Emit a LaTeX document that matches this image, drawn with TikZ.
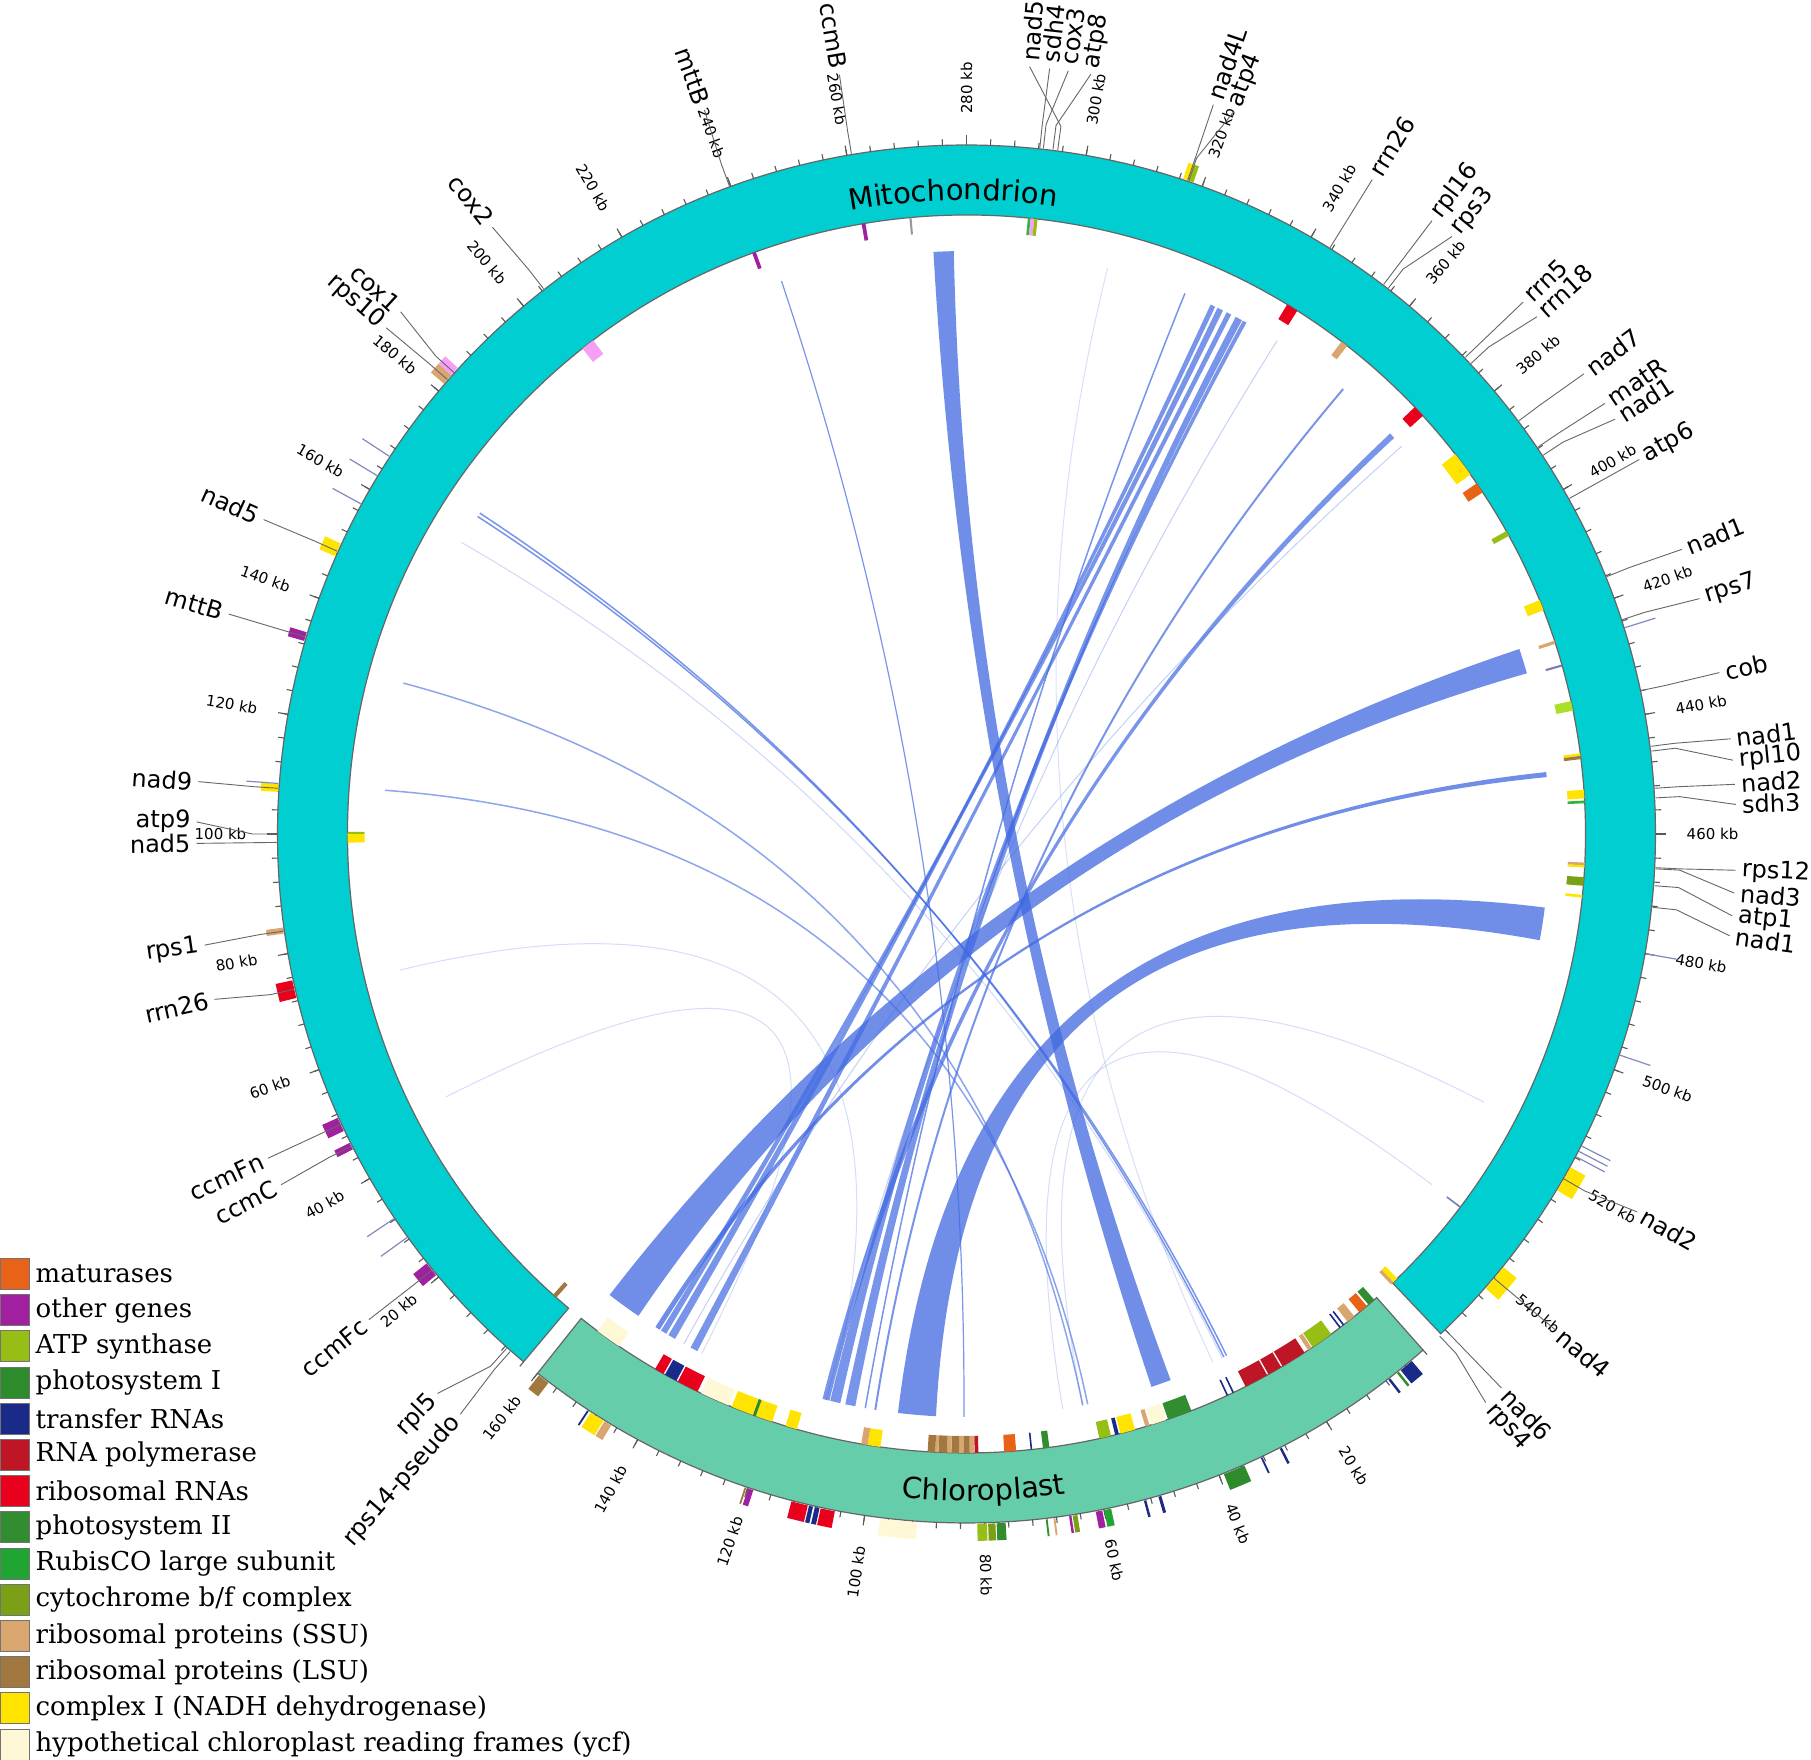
\documentclass[tikz,border=0pt]{standalone}
\usepackage{fontspec}
\setmainfont{DejaVu Serif}
\newfontfamily\sansf{DejaVu Sans}
\usetikzlibrary{decorations.text}
\definecolor{mitoC}{RGB}{0,206,209}
\definecolor{chlC}{RGB}{102,205,170}
\definecolor{cMat}{RGB}{232,98,24}
\definecolor{cOth}{RGB}{160,32,160}
\definecolor{cATP}{RGB}{150,190,20}
\definecolor{cPSI}{RGB}{46,139,44}
\definecolor{cTRNA}{RGB}{26,42,136}
\definecolor{cRNAP}{RGB}{190,22,36}
\definecolor{cRRNA}{RGB}{232,0,28}
\definecolor{cPSII}{RGB}{50,140,48}
\definecolor{cRub}{RGB}{32,165,50}
\definecolor{cCyt}{RGB}{122,160,24}
\definecolor{cSSU}{RGB}{218,166,112}
\definecolor{cLSU}{RGB}{160,120,64}
\definecolor{cNADH}{RGB}{255,228,0}
\definecolor{cYcf}{RGB}{255,248,214}
\definecolor{cCox}{RGB}{245,160,245}
\definecolor{cLink}{RGB}{65,105,225}
\definecolor{cCob}{RGB}{170,225,40}
\definecolor{cSdh}{RGB}{50,180,60}
\newcommand\ringf{\sansf\fontsize{29}{31}\selectfont}
\newcommand\band[5]{\fill[#5] (#1:#3) arc[start angle=#1,end angle=#2,radius=#3] -- (#2:#4) arc[start angle=#2,end angle=#1,radius=#4] -- cycle;}
\newcommand\gmo[3]{\pgfmathsetmacro\tA{230-(#1)/2}\pgfmathsetmacro\tB{230-(#2)/2}\band{\tA}{\tB}{690}{707}{#3}}
\newcommand\gmi[3]{\pgfmathsetmacro\tA{230-(#1)/2}\pgfmathsetmacro\tB{230-(#2)/2}\band{\tA}{\tB}{602}{619}{#3}}
\newcommand\gco[3]{\pgfmathsetmacro\tA{-48.5-(#1)/2}\pgfmathsetmacro\tB{-48.5-(#2)/2}\band{\tA}{\tB}{690}{707}{#3}}
\newcommand\gci[3]{\pgfmathsetmacro\tA{-48.5-(#1)/2}\pgfmathsetmacro\tB{-48.5-(#2)/2}\band{\tA}{\tB}{602}{619}{#3}}
\newcommand\trl[1]{\pgfmathsetmacro\tA{230-(#1)/2}\draw[cTRNA!55,line width=1.2pt] (\tA:690) -- (\tA:722);}
\newcommand\lnk[5]{%
  \pgfmathsetmacro\pa{230-(#1)/2}\pgfmathsetmacro\pb{230-(#2)/2}%
  \pgfmathsetmacro\qa{-48.5-(#3)/2}\pgfmathsetmacro\qb{-48.5-(#4)/2}%
  \fill[cLink,fill opacity=#5] (\pa:583) arc[start angle=\pa,end angle=\pb,radius=583] .. controls (\pb:194) and (\qa:194) .. (\qa:583) arc[start angle=\qa,end angle=\qb,radius=583] .. controls (\qb:194) and (\pa:194) .. (\pa:583) -- cycle;}
\newcommand\lln[4]{%
  \pgfmathsetmacro\pa{230-(#1)/2}\pgfmathsetmacro\qa{-48.5-(#2)/2}%
  \draw[cLink,draw opacity=#3,line width=#4] (\pa:583) .. controls (\pa:194) and (\qa:194) .. (\qa:583);}
\newcommand\glab[3]{%
  \draw[lead] (#1:690) -- (#1:714) -- (#2:770);
  \pgfmathtruncatemacro\flip{((#2)>90.01 || (#2)<(-90)) ? 1 : 0}%
  \ifnum\flip=1 \node[glbl,rotate=#2+180,anchor=east] at (#2:776) {#3};%
  \else \node[glbl,rotate=#2,anchor=west] at (#2:776) {#3};\fi}
\begin{document}
\begin{tikzpicture}[x=1pt,y=1pt,
  tk/.style={draw=black!65,line width=1.1pt},
  lead/.style={draw=black!60,line width=0.9pt},
  glbl/.style={font=\sansf\fontsize{24}{26}\selectfont,inner sep=0pt},
  tl/.style={font=\sansf\fontsize{15}{17}\selectfont,inner sep=0pt},
  legt/.style={font=\fontsize{26}{28}\selectfont,inner sep=0pt},
  legbox/.style={draw=black!55,line width=1pt},
  ringo/.style={draw=black!60,line width=1.2pt}]
\fill[white] (-966.5,-926) rectangle (844.5,834);
\useasboundingbox (-966.5,-926) rectangle (844.5,834);

% ---------------- links ----------------
\lln{160}{31}{.25}{1pt}
\lln{73}{110}{.22}{1pt}
\lln{46.4}{137}{.22}{1pt}
\lln{308}{33}{.2}{1pt}
\lln{344.4}{110.8}{.3}{1pt}
\lln{376.6}{141}{.3}{1pt}
\lln{514.8}{60}{.22}{1pt}
\lln{534}{64}{.22}{1pt}
\lln{324}{103}{.7}{1.5pt}
\lln{360.5}{101}{.7}{2pt}
\lln{243}{83.5}{.7}{1.2pt}
\lln{166}{30}{.7}{1.5pt}
\lln{166.8}{30.6}{.7}{1.5pt}
\lln{130}{60}{.6}{1.5pt}
\lln{108.6}{59}{.6}{1.5pt}
\lnk{273.5}{277.5}{42}{46}{.75}
\lnk{423}{428}{151.5}{158.5}{.75}
\lnk{474.5}{481}{89}{96.5}{.75}
\lnk{447.8}{448.8}{146.5}{147.5}{.75}
\lnk{329.5}{330.5}{143}{144.5}{.7}
\lnk{331}{332.2}{145}{146.2}{.7}
\lnk{333}{334}{138}{139.5}{.7}
\lnk{335}{336.4}{105}{107}{.7}
\lnk{336.6}{337.4}{108}{110}{.7}
\lnk{373.2}{374.4}{110.2}{111.6}{.7}

% ---------------- rings ----------------
\filldraw[ringo,fill=mitoC] (230:619) arc[start angle=230,end angle=-46.5,radius=619] -- (-46.5:689) arc[start angle=-46.5,end angle=230,radius=689] -- cycle;
\filldraw[ringo,fill=chlC] (-48.5:619) arc[start angle=-48.5,end angle=-128.5,radius=619] -- (-128.5:689) arc[start angle=-128.5,end angle=-48.5,radius=689] -- cycle;
\path[decorate,decoration={text along path,text align=center,text={|\ringf|Mitochondrion}}] (111.2:634) arc[start angle=111.2,end angle=71.2,radius=634];
\path[decorate,decoration={text along path,text align=center,text={|\ringf|Chloroplast}}] (-108.5:667) arc[start angle=-108.5,end angle=-68.5,radius=667];

% ---------------- ticks ----------------
\foreach \k in {0,4,...,552}{\draw[tk] ({230-\k/2}:689) -- ({230-\k/2}:695);}
\foreach \k in {20,40,...,540}{\draw[tk] ({230-\k/2}:689) -- ({230-\k/2}:699);}
\foreach \k in {0,4,...,160}{\draw[tk] ({-48.5-\k/2}:689) -- ({-48.5-\k/2}:695);}
\foreach \k in {20,40,...,160}{\draw[tk] ({-48.5-\k/2}:689) -- ({-48.5-\k/2}:699);}
\foreach \k in {20,40,...,540}{
  \pgfmathsetmacro\a{230-\k/2}
  \pgfmathtruncatemacro\flip{\a>90.01 ? 1 : 0}
  \ifnum\flip=1 \node[tl,rotate=\a+180,anchor=east] (tm\k) at (\a:720) {\k{} kb};
  \else \node[tl,rotate=\a,anchor=west] (tm\k) at (\a:720) {\k{} kb};\fi}
\foreach \k in {20,40,...,160}{
  \pgfmathsetmacro\a{-48.5-\k/2}
  \pgfmathtruncatemacro\flip{\a<(-90) ? 1 : 0}
  \ifnum\flip=1 \node[tl,rotate=\a+180,anchor=east] (tc\k) at (\a:720) {\k{} kb};
  \else \node[tl,rotate=\a,anchor=west] (tc\k) at (\a:720) {\k{} kb};\fi}

% ---------------- mito genes ----------------
\gmo{20.5}{23}{cOth}
\gmo{45.6}{46.8}{cOth}
\gmo{49}{51.4}{cOth}
\gmo{72.5}{75.5}{cRRNA}
\gmo{83.4}{84.4}{cSSU}
\gmo{107}{108.3}{cNADH}
\gmo{132.5}{134}{cOth}
\gmo{147.5}{149.8}{cNADH}
\gmo{181.5}{183.4}{cSSU}
\gmo{183.4}{185}{cCox}
\gmo{316.6}{317.6}{cNADH}
\gmo{317.6}{318.4}{cATP}
\gmo{517.8}{522.2}{cNADH}
\gmo{537.8}{542.4}{cNADH}
\trl{28.4}\trl{32.2}\trl{108.4}\trl{157.2}\trl{162.6}\trl{166.4}\trl{425.2}\trl{480}\trl{497.4}\trl{513.8}\trl{514.8}\trl{515.8}
\gmi{3}{3.8}{cLSU}
\gmi{98.4}{100}{cNADH}
\gmi{100}{100.4}{cATP}
\gmi{203.3}{205.8}{cCox}
\gmi{239.5}{240.2}{cOth}
\gmi{269.4}{269.8}{black!40}
\gmi{260.5}{261.2}{cOth}
\gmi{291.4}{291.9}{cSdh}
\gmi{291.9}{292.6}{cCox}
\gmi{292.6}{293.2}{cATP}
\gmi{342.4}{344.6}{cRRNA}
\gmi{354.6}{355.9}{cSSU}
\gmi{372.8}{375}{cRRNA}
\gmi{384.3}{389}{cNADH}
\gmi{391}{393}{cMat}
\gmi{401.4}{402.4}{cATP}
\gmi{415.6}{417.6}{cNADH}
\gmi{423.6}{424.2}{cSSU}
\gmi{428.2}{428.6}{cTRNA!60}
\gmi{435.2}{437}{cCob}
\gmi{445}{445.5}{cNADH}
\gmi{445.5}{446.1}{cLSU}
\gmi{451.8}{453.4}{cNADH}
\gmi{453.8}{454.3}{cSdh}
\gmi{465.3}{465.8}{cSSU}
\gmi{465.8}{466.2}{cNADH}
\gmi{468}{469.6}{cCyt}
\gmi{471.3}{471.8}{cNADH}
\gmi{534}{534.3}{cTRNA!60}
\gmi{551.8}{552.8}{cNADH}
\gmi{552.8}{553.4}{cSSU}

% ---------------- chloroplast genes ----------------
\gco{2.6}{5}{cTRNA}
\gco{5.4}{5.8}{cPSII}
\gco{7.2}{7.6}{cTRNA}
\gco{28.6}{29}{cTRNA}
\gco{32.2}{32.5}{cTRNA}
\gco{35.5}{39.2}{cPSI}
\gco{50.2}{50.7}{cTRNA}
\gco{52.8}{53.2}{cTRNA}
\gco{58.8}{60}{cRub}
\gco{60.3}{61.4}{cOth}
\gco{64.5}{65.3}{cCyt}
\gco{65.5}{65.9}{cOth}
\gco{68.2}{68.5}{cSSU}
\gco{69.5}{69.8}{cPSII}
\gco{76.5}{78}{cPSII}
\gco{78.2}{79.4}{cCyt}
\gco{79.6}{81.2}{cATP}
\gco{91.2}{97.4}{cYcf}
\gco{105}{107.4}{cRRNA}
\gco{107.6}{108.4}{cTRNA}
\gco{108.7}{109.4}{cTRNA}
\gco{109.6}{112.4}{cRRNA}
\gco{119}{119.9}{cOth}
\gco{120.2}{120.5}{cLSU}
\gco{145}{146.3}{cSSU}
\gco{146.5}{149}{cNADH}
\gco{149.4}{149.7}{cTRNA}
\gco{157.6}{159.6}{cLSU}
\gci{0.6}{2}{cPSII}
\gci{2.4}{4.2}{cMat}
\gci{5.4}{7}{cSSU}
\gci{7.8}{8.1}{cTRNA}
\gci{8.6}{8.9}{cTRNA}
\gci{10.8}{15}{cATP}
\gci{15.2}{16}{cSSU}
\gci{16.8}{21.6}{cRNAP}
\gci{21.9}{24.6}{cRNAP}
\gci{24.9}{29.4}{cRNAP}
\gci{31.8}{32.1}{cTRNA}
\gci{33}{33.3}{cTRNA}
\gci{40.4}{45}{cPSII}
\gci{45.4}{48.2}{cYcf}
\gci{48.6}{49.4}{cSSU}
\gci{51.4}{54.2}{cNADH}
\gci{54.5}{55.2}{cTRNA}
\gci{56}{58.2}{cATP}
\gci{67.6}{68.8}{cPSII}
\gci{70.8}{71.1}{cTRNA}
\gci{73.8}{76}{cMat}
\gci{80.8}{81.5}{cRNAP}
\gci{81.6}{82.4}{cSSU}
\gci{82.4}{83.6}{cLSU}
\gci{83.6}{84.4}{cSSU}
\gci{84.4}{85.8}{cLSU}
\gci{85.8}{86.6}{cSSU}
\gci{86.6}{88.2}{cLSU}
\gci{88.2}{88.8}{cSSU}
\gci{88.8}{90.2}{cLSU}
\gci{99}{101.4}{cNADH}
\gci{101.4}{102.6}{cSSU}
\gci{114.8}{117}{cNADH}
\gci{119.6}{122.8}{cNADH}
\gci{122.8}{123.4}{cPSI}
\gci{123.4}{127.6}{cNADH}
\gci{128.2}{133.8}{cYcf}
\gci{134.5}{138.6}{cRRNA}
\gci{138.9}{141.3}{cTRNA}
\gci{141.6}{143.4}{cRRNA}
\gci{151.3}{156.2}{cYcf}

% ---------------- gene labels ----------------
\glab{228.2}{226.6}{rpl5}
\glab{228.6}{228.9}{rps14-pseudo}
\glab{219.2}{219.1}{ccmFc}
\glab{206.9}{207.1}{ccmC}
\glab{204.9}{204.9}{ccmFn}
\glab{193.0}{192.4}{rrn26}
\glab{188.1}{188.3}{rps1}
\glab{180.7}{180.7}{nad5}
\glab{180.0}{179.1}{atp9}
\glab{176.2}{176.1}{nad9}
\glab{163.4}{163.4}{mttB}
\glab{155.8}{155.9}{nad5}
\glab{138.8}{138.9}{rps10}
\glab{138.0}{137.3}{cox1}
\glab{127.8}{128.0}{cox2}
\glab{110.1}{109.9}{mttB}
\glab{99.6}{99.5}{ccmB}
\glab{82.4}{85.3}{nad5}
\glab{83.9}{83.8}{sdh4}
\glab{83.6}{82.4}{cox3}
\glab{82.8}{80.7}{atp8}
\glab{71.3}{71.3}{nad4L}
\glab{71.2}{69.7}{atp4}
\glab{58.2}{58.2}{rrn26}
\glab{52.8}{52.8}{rpl16}
\glab{52.3}{50.9}{rps3}
\glab{43.7}{43.7}{rrn5}
\glab{43.0}{42.2}{rrn18}
\glab{36.8}{36.7}{nad7}
\glab{34.1}{34.0}{matR}
\glab{33.3}{32.6}{nad1}
\glab{29.1}{29.1}{atp6}
\glab{21.9}{21.7}{nad1}
\glab{18.1}{17.8}{rps7}
\glab{12.0}{12.1}{cob}
\glab{7.3}{7.1}{nad1}
\glab{6.9}{5.5}{rpl10}
\glab{3.8}{3.7}{nad2}
\glab{3.0}{2.2}{sdh3}
\glab{-2.8}{-2.7}{rps12}
\glab{-2.9}{-4.4}{nad3}
\glab{-4.3}{-6.1}{atp1}
\glab{-6.1}{-7.6}{nad1}
\glab{-30.0}{-29.4}{nad2}
\glab{-40.1}{-40.1}{nad4}
\glab{-46.0}{-46.0}{nad6}
\glab{-46.7}{-47.6}{rps4}

% ---------------- legend ----------------
\foreach \c/\t [count=\i from 0] in {cMat/{maturases},cOth/{other genes},cATP/{ATP synthase},cPSI/{photosystem I},cTRNA/{transfer RNAs},cRNAP/{RNA polymerase},cRRNA/{ribosomal RNAs},cPSII/{photosystem II},cRub/{RubisCO large subunit},cCyt/{cytochrome b/f complex},cSSU/{ribosomal proteins (SSU)},cLSU/{ribosomal proteins (LSU)},cNADH/{complex I (NADH dehydrogenase)},cYcf/{hypothetical chloroplast reading frames (ycf)}}{
  \pgfmathsetmacro\yy{834-1274-36.2*\i}
  \draw[legbox,fill=\c] (-965.5,\yy-15.5) rectangle (-936.5,\yy+15.5);
  \node[legt,anchor=west] (leg\i) at (-931,\yy) {\t};
}
\end{tikzpicture}
\end{document}
